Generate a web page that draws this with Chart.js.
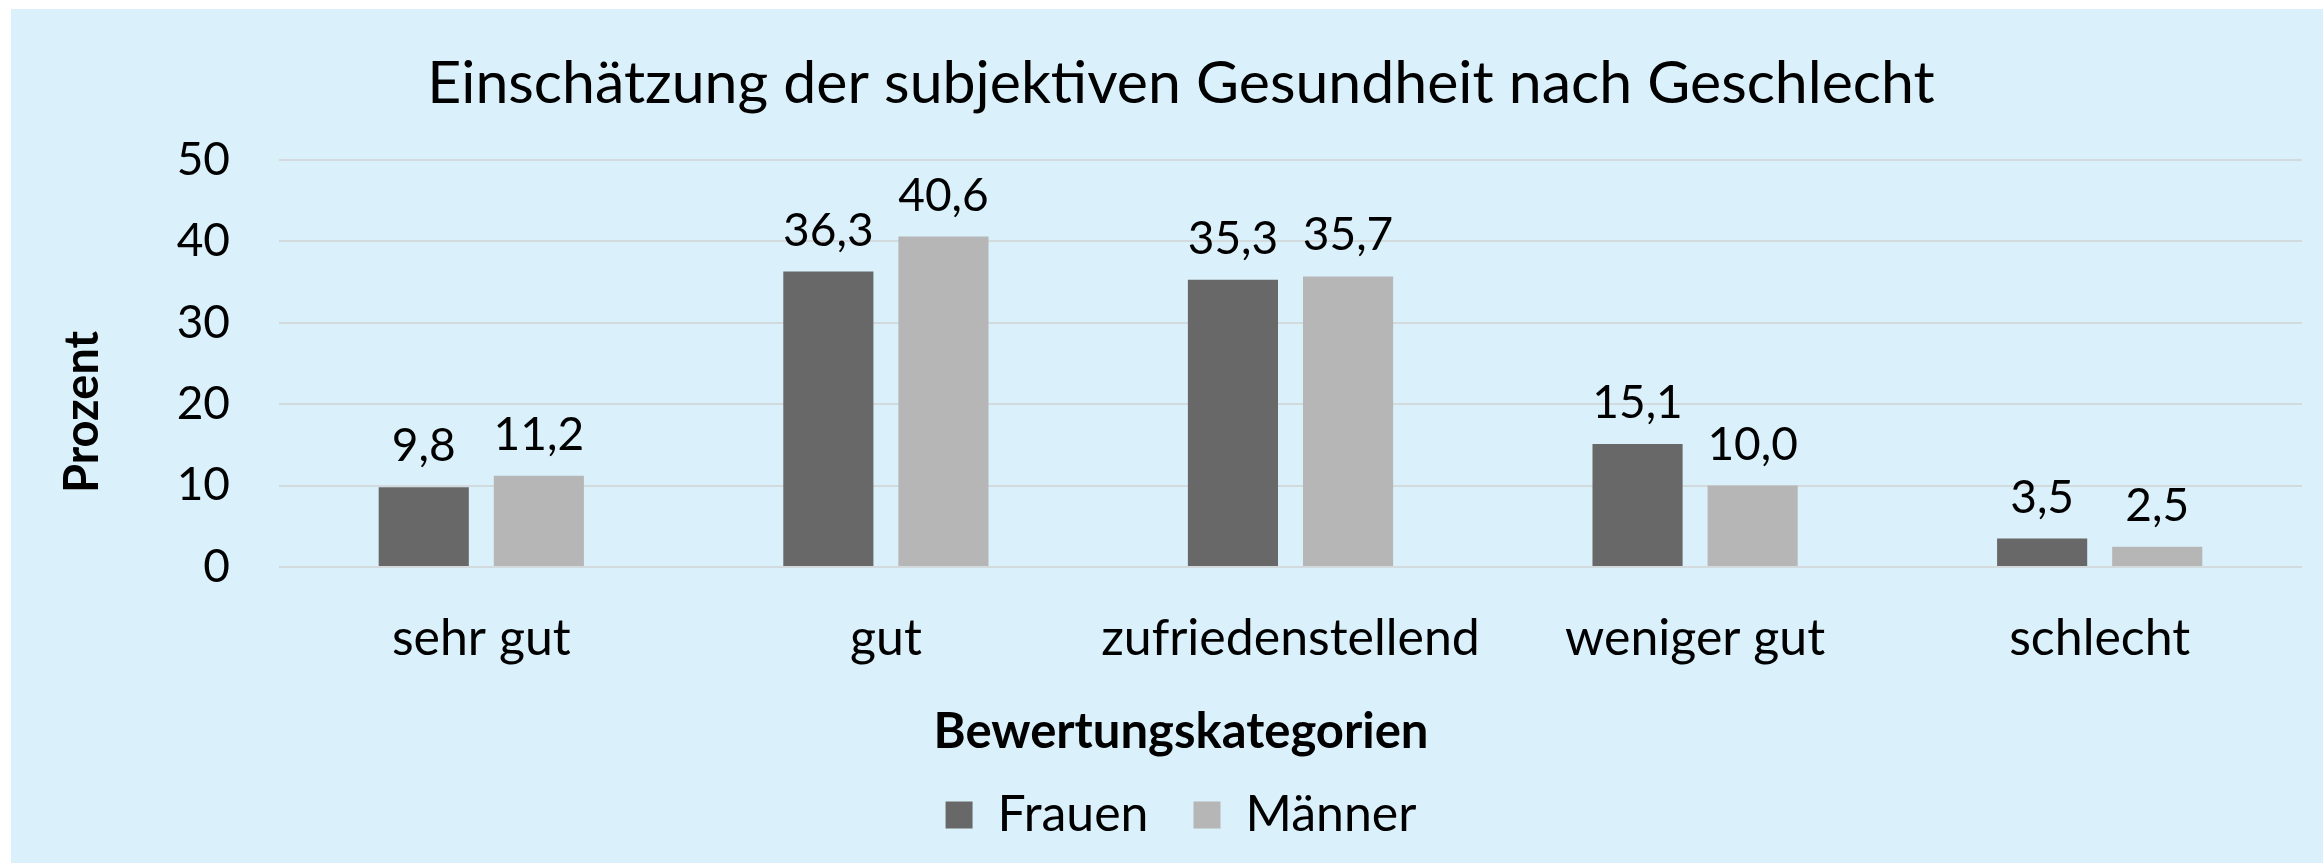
<!DOCTYPE html>
<html>
<head>
<meta charset="utf-8">
<script src="https://cdn.jsdelivr.net/npm/chart.js@4.4.1/dist/chart.umd.min.js"></script>
<style>
  html, body { margin: 0; padding: 0; background: #ffffff; }
  #wrap { width: 2323px; height: 863px; }
</style>
</head>
<body>
<div id="wrap"><canvas id="c" width="2323" height="863"></canvas></div>
<script>
const chartTitle = 'Einschätzung der subjektiven Gesundheit nach Geschlecht';
const xTitle = 'Bewertungskategorien';
const yTitle = 'Prozent';
const categories = ['sehr gut', 'gut', 'zufriedenstellend', 'weniger gut', 'schlecht'];
const seriesNames = ['Frauen', 'Männer'];
const frauen = [9.8, 36.3, 35.3, 15.1, 3.5];
const maenner = [11.2, 40.6, 35.7, 10.0, 2.5];
const yTicks = [0, 10, 20, 30, 40, 50];

const FONT = 'Lato, "Noto Sans", sans-serif';
Chart.defaults.font.family = FONT;
Chart.defaults.color = '#000000';

const bgPlugin = {
  id: 'bg',
  beforeDraw(chart) {
    const ctx = chart.ctx;
    ctx.save();
    ctx.fillStyle = '#ffffff';
    ctx.fillRect(0, 0, chart.width, chart.height);
    ctx.fillStyle = '#DAF0FA';
    ctx.fillRect(11, 9, chart.width - 11, chart.height - 9);
    ctx.restore();
  }
};

const yTitlePlugin = {
  id: 'yTitleText',
  afterDraw(chart) {
    const ctx = chart.ctx;
    ctx.save();
    ctx.translate(83, 412);
    ctx.rotate(-Math.PI / 2);
    ctx.font = 'bold 47px ' + FONT;
    ctx.fillStyle = '#000000';
    ctx.textAlign = 'center';
    ctx.textBaseline = 'middle';
    ctx.fillText(yTitle, 0, 0);
    ctx.restore();
  }
};

const valueLabels = {
  id: 'valueLabels',
  afterDatasetsDraw(chart) {
    const ctx = chart.ctx;
    ctx.save();
    ctx.font = '46px ' + FONT;
    ctx.fillStyle = '#000000';
    ctx.textAlign = 'center';
    ctx.textBaseline = 'alphabetic';
    chart.data.datasets.forEach((ds, di) => {
      const meta = chart.getDatasetMeta(di);
      meta.data.forEach((el, i) => {
        const v = ds.data[i];
        ctx.fillText(v.toFixed(1).replace('.', ','), el.x, el.y - 26);
      });
    });
    ctx.restore();
  }
};

new Chart(document.getElementById('c'), {
  type: 'bar',
  data: {
    labels: categories,
    datasets: [
      { label: seriesNames[0], data: frauen, backgroundColor: '#686868', categoryPercentage: 0.569, barPercentage: 0.783 },
      { label: seriesNames[1], data: maenner, backgroundColor: '#B6B6B6', categoryPercentage: 0.569, barPercentage: 0.783 }
    ]
  },
  options: {
    responsive: false,
    animation: false,
    devicePixelRatio: 1,
    layout: { padding: { left: 60, right: 21, top: 0, bottom: 13 } },
    plugins: {
      title: {
        display: true,
        text: chartTitle,
        font: { size: 59, weight: 'normal' },
        color: '#000000',
        padding: { top: 48.6, bottom: 40.6 }
      },
      subtitle: {
        display: true,
        position: 'bottom',
        weight: 500,
        text: xTitle,
        font: { size: 49, weight: 'bold', lineHeight: 0.5 },
        color: '#000000',
        padding: { top: 42.75, bottom: 0.75 }
      },
      legend: {
        position: 'bottom',
        weight: 1000,
        labels: {
          font: { size: 50 },
          color: '#000000',
          boxWidth: 27,
          boxHeight: 27,
          padding: 45
        }
      },
      tooltip: { enabled: false }
    },
    scales: {
      x: {
        grid: { display: false, drawTicks: false },
        border: { display: false },
        ticks: { font: { size: 50 }, color: '#000000', padding: 41.5 },
        afterFit(scale) { scale.height = 110; }
      },
      y: {
        min: 0,
        max: 50,
        afterBuildTicks(scale) { scale.ticks = yTicks.map(v => ({ value: v })); },
        grid: { color: '#D3DADE', lineWidth: 2, drawTicks: false },
        border: { display: false },
        ticks: { font: { size: 46 }, color: '#000000', padding: 49 },
        afterFit(scale) { scale.width = 219; }
      }
    }
  },
  plugins: [bgPlugin, valueLabels, yTitlePlugin]
});
</script>
</body>
</html>
